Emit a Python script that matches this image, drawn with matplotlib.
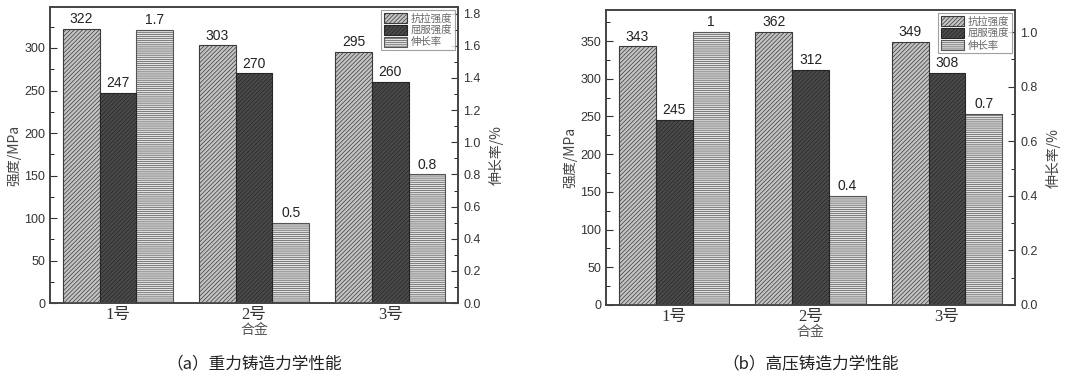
import matplotlib
matplotlib.use("Agg")
import matplotlib.pyplot as plt
import numpy as np
from matplotlib.patches import Patch
from matplotlib.ticker import MultipleLocator

plt.rcParams['font.family'] = ['Noto Sans CJK SC', 'DejaVu Sans']
plt.rcParams['hatch.linewidth'] = 0.5

alloys = ["1号", "2号", "3号"]
series_names = ["抗拉强度", "屈服强度", "伸长率"]

# (a) gravity casting
grav_tensile = [322, 303, 295]
grav_yield = [247, 270, 260]
grav_elong = [1.7, 0.5, 0.8]

# (b) high pressure casting
hp_tensile = [343, 362, 349]
hp_yield = [245, 312, 308]
hp_elong = [1.0, 0.4, 0.7]

styles = [
    dict(facecolor="#c4c4c4", edgecolor="#3a3a3a", hatch="////////"),
    dict(facecolor="#4a4a4a", edgecolor="#262626", hatch="////////"),
    dict(facecolor="#e2e2e2", edgecolor="#555555", hatch="--------"),
]


def panel(rect, tensile, yld, elong, ylim_l, ylim_r, elong_labels, caption):
    ax = fig.add_axes(rect)
    ax2 = ax.twinx()
    x = np.arange(1, len(alloys) + 1)
    w = 0.27
    b1 = ax.bar(x - w, tensile, w, linewidth=0.8, **styles[0])
    b2 = ax.bar(x, yld, w, linewidth=0.8, **styles[1])
    b3 = ax2.bar(x + w, elong, w, linewidth=0.8, **styles[2])
    ax.set_zorder(ax2.get_zorder() + 1)
    ax.patch.set_visible(False)
    for bars, a, labs in [(b1, ax, [str(v) for v in tensile]),
                          (b2, ax, [str(v) for v in yld]),
                          (b3, ax2, elong_labels)]:
        for r, lab in zip(bars, labs):
            a.annotate(lab, (r.get_x() + r.get_width() / 2, r.get_height()),
                       xytext=(0, 2), textcoords="offset points",
                       ha="center", va="bottom", fontsize=10,
                       family="Liberation Sans", color="#222222")
    ax.set_xlim(0.5, 3.5)
    ax.set_ylim(*ylim_l)
    ax2.set_ylim(*ylim_r)
    ax.set_xticks(x)
    ax.set_xticklabels(alloys, fontsize=12, color="#333333",
                       family=["Liberation Serif", "Noto Sans CJK SC"])
    ax.tick_params(axis="x", length=0, pad=3)
    ax.yaxis.set_major_locator(MultipleLocator(50))
    ax.yaxis.set_minor_locator(MultipleLocator(25))
    ax2.yaxis.set_major_locator(MultipleLocator(0.2))
    ax2.yaxis.set_minor_locator(MultipleLocator(0.1))
    ax2.yaxis.set_major_formatter(matplotlib.ticker.FormatStrFormatter("%.1f"))
    for a in (ax, ax2):
        a.tick_params(axis="y", which="major", direction="in", length=5, width=0.8,
                      labelsize=9, colors="#333333")
        a.tick_params(axis="y", which="minor", direction="in", length=3, width=0.6)
        for lab in a.get_yticklabels():
            lab.set_family("Liberation Sans")
        for s in a.spines.values():
            s.set_color("#444444")
            s.set_linewidth(1.2)
    ax.set_ylabel("强度/MPa", fontsize=10, color="#444444", labelpad=2)
    ax2.set_ylabel("伸长率/%", fontsize=10, color="#444444", labelpad=6)
    ax.set_xlabel("合金", fontsize=10, color="#555555", labelpad=0)
    handles = [Patch(linewidth=0.8, **s) for s in styles]
    leg = ax.legend(handles, series_names, loc="upper right", fontsize=7.5,
                    frameon=True, fancybox=False, edgecolor="#888888",
                    borderaxespad=0.3, handlelength=2.2, handleheight=1.15,
                    labelspacing=0.12, borderpad=0.25, handletextpad=0.4)
    leg.get_frame().set_linewidth(0.8)
    for t in leg.get_texts():
        t.set_color("#666666")
    fig.text(rect[0] + rect[2] / 2, 0.035, caption, ha="center", va="center",
             fontsize=12, color="#222222")
    return ax


fig = plt.figure(figsize=(10.8, 3.77), dpi=100)
panel([0.0463, 0.196, 0.378, 0.785], grav_tensile, grav_yield, grav_elong,
      (0, 348), (0, 1.84), ["1.7", "0.5", "0.8"], "（a）重力铸造力学性能")
panel([0.561, 0.191, 0.379, 0.782], hp_tensile, hp_yield, hp_elong,
      (0, 391), (0, 1.08), ["1", "0.4", "0.7"], "（b）高压铸造力学性能")

fig.savefig("out.png", dpi=100)
